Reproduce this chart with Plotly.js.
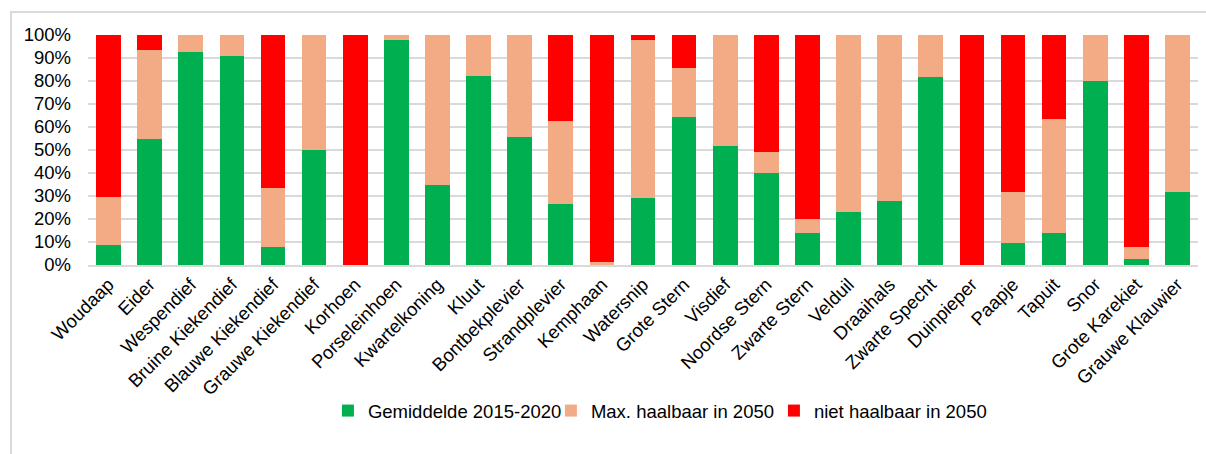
<!DOCTYPE html>
<html>
<head>
<meta charset="utf-8">
<script src="https://cdn.plot.ly/plotly-3.0.1.min.js"></script>
<style>
html,body{margin:0;padding:0;background:#fff;}
#wrap{position:relative;width:1206px;height:454px;overflow:hidden;}
#frame{position:absolute;left:10px;top:11px;width:1300px;height:600px;border-top:2px solid #d9d9d9;border-left:2px solid #d9d9d9;}
#chart{position:absolute;left:0;top:0;width:1206px;height:454px;}
</style>
</head>
<body>
<div id="wrap"><div id="frame"></div><div id="chart"></div></div>
<script>
// 27 species shown in chart
const species = ["Woudaap","Eider","Wespendief","Bruine Kiekendief","Blauwe Kiekendief","Grauwe Kiekendief","Korhoen","Porseleinhoen","Kwartelkoning","Kluut","Bontbekplevier","Strandplevier","Kemphaan","Watersnip","Grote Stern","Visdief","Noordse Stern","Zwarte Stern","Velduil","Draaihals","Zwarte Specht","Duinpieper","Paapje","Tapuit","Snor","Grote Karekiet","Grauwe Klauwier"];
const gemiddelde = [0.085,0.55,0.925,0.91,0.08,0.50,0.0,0.978,0.348,0.822,0.557,0.265,0.0,0.29,0.643,0.517,0.40,0.138,0.229,0.278,0.817,0.0,0.094,0.138,0.80,0.025,0.316];
const maxHaalbaar = [0.21,0.385,0.075,0.09,0.253,0.50,0.0,0.022,0.652,0.178,0.443,0.361,0.012,0.688,0.214,0.483,0.09,0.061,0.771,0.722,0.183,0.0,0.222,0.497,0.20,0.052,0.684];
const nietHaalbaar = [0.705,0.065,0.0,0.0,0.667,0.0,1.0,0.0,0.0,0.0,0.0,0.374,0.988,0.022,0.143,0.0,0.51,0.801,0.0,0.0,0.0,1.0,0.684,0.365,0.0,0.923,0.0];
const yTickVals = [0,0.1,0.2,0.3,0.4,0.5,0.6,0.7,0.8,0.9,1.0];
const yTickText = ["0%","10%","20%","30%","40%","50%","60%","70%","80%","90%","100%"];
</script>
<script>
const font = {family: "Liberation Sans, Arial, sans-serif", size: 18.5, color: "#000"};
const traces = [
  {name: "Gemiddelde 2015-2020", y: gemiddelde, color: "#00B050"},
  {name: "Max. haalbaar in 2050", y: maxHaalbaar, color: "#F2AB84"},
  {name: "niet haalbaar in 2050", y: nietHaalbaar, color: "#FF0000"}
].map(t => ({
  type: "bar", x: species, y: t.y, name: t.name,
  marker: {color: t.color, line: {width: 0}},
  hoverinfo: "x+y+name"
}));
const layout = {
  width: 1206, height: 454,
  paper_bgcolor: "rgba(0,0,0,0)", plot_bgcolor: "rgba(0,0,0,0)",
  barmode: "stack", bargap: 0.4,
  margin: {l: 88, r: 8, t: 35, b: 189},
  font: font,
  showlegend: true,
  legend: {orientation: "h", x: 0.5175, xanchor: "center", y: -0.635, yanchor: "middle",
           font: font, traceorder: "normal", itemwidth: 30,
           entrywidth: 178, entrywidthmode: "pixels"},
  xaxis: {tickangle: -45, showgrid: false, showline: true, linecolor: "#d9d9d9", linewidth: 1.5,
          ticks: "", tickfont: font, fixedrange: true},
  yaxis: {range: [0, 1.0], tickvals: yTickVals, ticktext: yTickText, showgrid: true,
          gridcolor: "#d9d9d9", gridwidth: 1.5, zeroline: false, showline: false, ticks: "",
          tickfont: font, ticklabelstandoff: 16, fixedrange: true}
};
Plotly.newPlot("chart", traces, layout, {displayModeBar: false, staticPlot: true});
</script>
</body>
</html>
